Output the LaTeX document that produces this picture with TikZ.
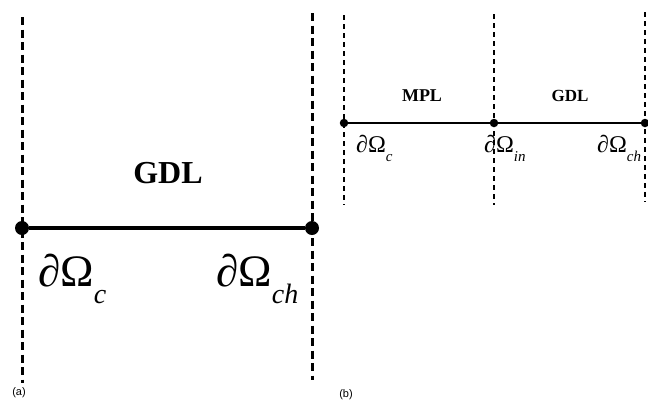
\documentclass[tikz,border=0pt]{standalone}
\usepackage{fontspec}
\setmainfont{Liberation Serif}
\newfontfamily\captionfont{Liberation Sans}
% boundary symbol: \bnd{main size}{subscript}{sub size}{drop}
\newcommand{\bnd}[4]{\fontsize{#1}{#1}\selectfont ∂Ω\raisebox{-#4pt}{\fontsize{#3}{#3}\selectfont\itshape #2}}
\begin{document}
\begin{tikzpicture}[x=1pt,y=-1pt,
  wallA/.style={line width=3pt,dash pattern=on 8pt off 4.5pt},
  wallB/.style={line width=1.4pt,dash pattern=on 5pt off 4pt},
  dotA/.style={circle,fill=black,inner sep=0pt,minimum size=14pt},
  dotB/.style={circle,fill=black,inner sep=0pt,minimum size=8.5pt},
  lab/.style={inner sep=0pt,anchor=base west},
  layer/.style={inner sep=0pt,anchor=base,font=\bfseries},
  panellabel/.style={inner sep=0pt,font=\captionfont\fontsize{11}{11}\selectfont}]
\useasboundingbox (0,0) rectangle (648,400);

% ---- panel (a): single GDL ----
\coordinate (aLt) at (22,17);   \coordinate (aLb) at (22,383);
\coordinate (aRt) at (312,13);  \coordinate (aRb) at (312,380);
\draw[wallA] (aLt) -- (aLb);
\draw[wallA] (aRt) -- (aRb);
\node[dotA] (a1) at (22,228) {};
\node[dotA] (a2) at (312,228) {};
\draw[line width=3.5pt] (a1) -- (a2);
\node[layer,font=\bfseries\fontsize{32}{32}\selectfont] (aGDL) at (168,183) {GDL};
\node[lab] (aC) at (38,286) {\bnd{45}{c}{28}{17}};
\node[lab] (aCH) at (216,286) {\bnd{45}{ch}{28}{17}};
\node[panellabel] (capA) at (19,393) {(a)};

% ---- panel (b): MPL + GDL ----
\coordinate (bLt) at (344,15);  \coordinate (bLb) at (344,205);
\coordinate (bMt) at (494,14);  \coordinate (bMb) at (494,205);
\coordinate (bRt) at (645,12);  \coordinate (bRb) at (645,202);
\draw[wallB] (bLt) -- (bLb);
\draw[wallB] (bMt) -- (bMb);
\draw[wallB] (bRt) -- (bRb);
\node[dotB] (b1) at (344,123) {};
\node[dotB] (b2) at (494,123) {};
\node[dotB] (b3) at (645,123) {};
\draw[line width=2pt] (b1) -- (b2) -- (b3);
\node[layer,font=\bfseries\fontsize{18}{18}\selectfont] (bMPL) at (422,101) {MPL};
\node[layer,font=\bfseries\fontsize{17}{17}\selectfont] (bGDL) at (570,101) {GDL};
\node[lab] (bC) at (356,152) {\bnd{24}{c}{15}{9}};
\node[lab] (bIN) at (484,152) {\bnd{24}{in}{15}{9}};
\node[lab] (bCH) at (597,152) {\bnd{24}{ch}{15}{9}};
\node[panellabel] (capB) at (346,395) {(b)};
\end{tikzpicture}
\end{document}
